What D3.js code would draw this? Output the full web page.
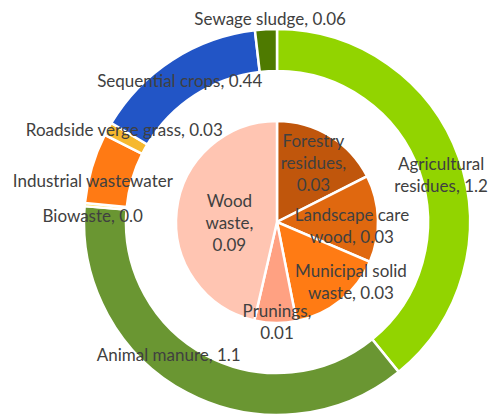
<!DOCTYPE html>
<html>
<head>
<meta charset="utf-8">
<script src="https://cdn.jsdelivr.net/npm/d3@7"></script>
<style>
  body { margin: 0; background: #fff; }
  text { font-family: Lato, "Liberation Sans", sans-serif; font-size: 17px; fill: #404040; }
</style>
</head>
<body>
<div id="chart"></div>
<script>
// outer ring (sources)
var outerNames = ["Agricultural residues", "Animal manure", "Biowaste", "Industrial wastewater",
                  "Roadside verge grass", "Sequential crops", "Sewage sludge"];
var outerValues = [1.18, 1.12, 0.008, 0.177, 0.034, 0.44, 0.055];
var outerLabels = ["1.2", "1.1", "0.0", "", "0.03", "0.44", "0.06"];
var outerColors = ["#92d400", "#6a9632", "#ffd93a", "#ff7a14", "#f6b82e", "#2255c6", "#4e7a00"];

// inner pie (wood)
var innerNames = ["Forestry residues", "Landscape care wood", "Municipal solid waste", "Prunings", "Wood waste"];
var innerValues = [0.034, 0.027, 0.030, 0.013, 0.090];
var innerLabels = ["0.03", "0.03", "0.03", "0.01", "0.09"];
var innerColors = ["#c0560c", "#e0680f", "#ff7b14", "#ffa182", "#ffc5b2"];

// label text lines and nudges from the centroid (layout only)
var outerLines = [["Agricultural", "residues, 1.2"], ["Animal manure, 1.1"], ["Biowaste, 0.0"],
                  ["Industrial wastewater"], ["Roadside verge grass, 0.03"],
                  ["Sequential crops, 0.44"], ["Sewage sludge, 0.06"]];
var outerNudge = [[2, 11], [-28, -19], [-13, 10], [-19, 7], [-2, -9], [-4, 4], [3, -31]];
var innerLines = [["Forestry", "residues,", "0.03"], ["Landscape care", "wood, 0.03"],
                  ["Municipal solid", "waste, 0.03"], ["Prunings,", "0.01"], ["Wood", "waste,", "0.09"]];
var innerNudge = [[4, -6], [13, 6], [35, 12], [1, 38], [14, 8]];

var width = 493, height = 416;
var cx = 277, cy = 222;
var outerR = 193, ringR = 151, pieR = 101;
var lineH = 22;

var svg = d3.select("#chart").append("svg")
            .attr("width", width)
            .attr("height", height);
var g = svg.append("g").attr("transform", "translate(" + cx + "," + cy + ")");

var pie = d3.pie().sort(null).value(function(d) { return d; });

var ringArc = d3.arc().innerRadius(ringR).outerRadius(outerR);
var ringLabelArc = d3.arc().innerRadius(172).outerRadius(172);
var pieArc = d3.arc().innerRadius(0).outerRadius(pieR);
var pieLabelArc = d3.arc().innerRadius(62).outerRadius(62);

var outerData = pie(outerValues);
var innerData = pie(innerValues);

g.selectAll(".ring").data(outerData).enter().append("path")
  .attr("class", "ring")
  .attr("d", ringArc)
  .style("fill", function(d, i) { return outerColors[i]; })
  .style("stroke", "#fff")
  .style("stroke-width", 2.5);

g.selectAll(".slice").data(innerData).enter().append("path")
  .attr("class", "slice")
  .attr("d", pieArc)
  .style("fill", function(d, i) { return innerColors[i]; })
  .style("stroke", "#fff")
  .style("stroke-width", 2.5);

function addLabels(data, labelArc, lines, nudge) {
  data.forEach(function(d, i) {
    var c = labelArc.centroid(d);
    var x = c[0] + nudge[i][0], y = c[1] + nudge[i][1];
    var t = g.append("text").attr("text-anchor", "middle");
    var n = lines[i].length;
    lines[i].forEach(function(line, k) {
      t.append("tspan")
        .attr("x", x)
        .attr("y", y + (k - (n - 1) / 2) * lineH)
        .attr("dy", "0.35em")
        .text(line);
    });
  });
}

addLabels(outerData, ringLabelArc, outerLines, outerNudge);
addLabels(innerData, pieLabelArc, innerLines, innerNudge);
</script>
</body>
</html>
